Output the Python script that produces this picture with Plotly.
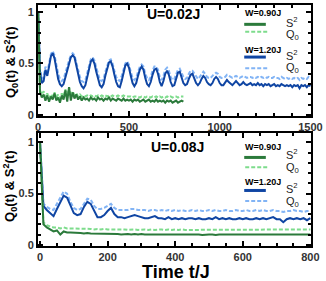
import plotly.graph_objects as go

# ---------------- data ----------------
# Panel (a): U = 0.02J
t_a_w090 = list(range(0, 801, 10))
s2_a_w090 = [1.0, 0.22, 0.17, 0.20, 0.14, 0.19, 0.13, 0.18, 0.15, 0.21,
             0.14, 0.17, 0.12, 0.19, 0.15, 0.24, 0.13, 0.27, 0.14, 0.22,
             0.16, 0.20, 0.15, 0.18, 0.14, 0.17, 0.15, 0.16, 0.14, 0.17,
             0.15, 0.16, 0.14, 0.17, 0.15, 0.16, 0.14, 0.16, 0.15, 0.17,
             0.14, 0.16, 0.15, 0.14, 0.16, 0.15, 0.14, 0.16, 0.14, 0.15,
             0.14, 0.15, 0.13, 0.15, 0.14, 0.15, 0.13, 0.14, 0.15, 0.13,
             0.14, 0.15, 0.13, 0.14, 0.13, 0.15, 0.13, 0.14, 0.13, 0.14,
             0.12, 0.14, 0.13, 0.14, 0.12, 0.13, 0.14, 0.12, 0.13, 0.14,
             0.13]
q0_a_w090 = [1.0, 0.24, 0.20, 0.23, 0.17, 0.21, 0.16, 0.20, 0.18, 0.22,
             0.17, 0.20, 0.16, 0.21, 0.18, 0.25, 0.17, 0.27, 0.18, 0.23,
             0.19, 0.21, 0.18, 0.20, 0.18, 0.19, 0.18, 0.19, 0.18, 0.19,
             0.18, 0.19, 0.18, 0.19, 0.18, 0.19, 0.18, 0.19, 0.18, 0.19,
             0.18, 0.19, 0.18, 0.18, 0.19, 0.18, 0.18, 0.19, 0.18, 0.18,
             0.18, 0.18, 0.17, 0.18, 0.18, 0.18, 0.17, 0.18, 0.18, 0.17,
             0.18, 0.18, 0.17, 0.18, 0.17, 0.18, 0.17, 0.18, 0.17, 0.18,
             0.17, 0.18, 0.17, 0.18, 0.17, 0.18, 0.18, 0.17, 0.18, 0.18,
             0.18]

t_a_w120 = list(range(0, 1501, 10))
s2_a_w120 = [1.0, 0.42, 0.31, 0.33, 0.44, 0.38, 0.47, 0.57, 0.60, 0.55,
             0.45, 0.35, 0.30, 0.28, 0.30, 0.36, 0.43, 0.50, 0.56, 0.58,
             0.56, 0.48, 0.40, 0.32, 0.28, 0.26, 0.29, 0.36, 0.45, 0.52,
             0.54, 0.50, 0.42, 0.34, 0.29, 0.27, 0.30, 0.38, 0.46, 0.51,
             0.52, 0.47, 0.39, 0.32, 0.28, 0.27, 0.33, 0.41, 0.48, 0.50,
             0.46, 0.38, 0.31, 0.28, 0.31, 0.38, 0.44, 0.47, 0.44, 0.36,
             0.30, 0.28, 0.32, 0.39, 0.44, 0.45, 0.40, 0.32, 0.28, 0.33,
             0.40, 0.43, 0.39, 0.32, 0.28, 0.29, 0.35, 0.41, 0.42, 0.37,
             0.31, 0.29, 0.30, 0.35, 0.39, 0.40, 0.36, 0.31, 0.29, 0.31,
             0.35, 0.38, 0.36, 0.32, 0.30, 0.29, 0.31, 0.35, 0.37, 0.35,
             0.31, 0.29, 0.29, 0.31, 0.34, 0.32, 0.30, 0.29, 0.31, 0.33,
             0.31, 0.29, 0.30, 0.32, 0.30, 0.29, 0.30, 0.31, 0.29, 0.30,
             0.29, 0.31, 0.29, 0.30, 0.28, 0.30, 0.29, 0.30, 0.28, 0.29,
             0.30, 0.28, 0.29, 0.28, 0.30, 0.29, 0.28, 0.29, 0.28, 0.29,
             0.27, 0.29, 0.28, 0.29, 0.26, 0.29, 0.28, 0.29, 0.27, 0.29,
             0.28]
q0_a_w120 = [1.0, 0.45, 0.35, 0.37, 0.47, 0.42, 0.50, 0.59, 0.62, 0.58,
             0.49, 0.40, 0.35, 0.33, 0.35, 0.40, 0.47, 0.53, 0.58, 0.60,
             0.58, 0.51, 0.44, 0.37, 0.33, 0.32, 0.34, 0.40, 0.48, 0.54,
             0.56, 0.53, 0.46, 0.39, 0.34, 0.33, 0.35, 0.42, 0.49, 0.53,
             0.54, 0.50, 0.43, 0.37, 0.34, 0.33, 0.38, 0.45, 0.50, 0.52,
             0.49, 0.42, 0.36, 0.34, 0.36, 0.42, 0.47, 0.49, 0.47, 0.40,
             0.36, 0.34, 0.37, 0.43, 0.47, 0.47, 0.44, 0.37, 0.34, 0.38,
             0.44, 0.46, 0.43, 0.37, 0.34, 0.35, 0.40, 0.44, 0.45, 0.41,
             0.37, 0.35, 0.36, 0.40, 0.43, 0.43, 0.40, 0.37, 0.35, 0.37,
             0.40, 0.42, 0.40, 0.37, 0.36, 0.36, 0.38, 0.40, 0.41, 0.40,
             0.37, 0.36, 0.36, 0.37, 0.39, 0.38, 0.37, 0.36, 0.37, 0.38,
             0.37, 0.36, 0.37, 0.38, 0.37, 0.36, 0.37, 0.37, 0.36, 0.37,
             0.36, 0.37, 0.36, 0.37, 0.36, 0.37, 0.36, 0.37, 0.36, 0.36,
             0.37, 0.36, 0.36, 0.35, 0.37, 0.36, 0.35, 0.36, 0.35, 0.36,
             0.35, 0.36, 0.35, 0.36, 0.34, 0.36, 0.35, 0.36, 0.35, 0.37,
             0.36]

# Panel (b): U = 0.08J
t_b = list(range(0, 801, 10))
s2_b_w090 = [1.0, 0.20, 0.17, 0.15, 0.13, 0.14, 0.10, 0.13, 0.12, 0.12,
             0.12, 0.115, 0.115, 0.11, 0.115, 0.11, 0.11, 0.11, 0.105, 0.11,
             0.105, 0.105, 0.11, 0.105, 0.10, 0.105, 0.105, 0.10, 0.105, 0.10,
             0.105, 0.10, 0.10, 0.105, 0.10, 0.10, 0.105, 0.10, 0.10, 0.10,
             0.105, 0.10, 0.10, 0.10, 0.10, 0.105, 0.10, 0.10, 0.095, 0.10,
             0.10, 0.10, 0.095, 0.10, 0.10, 0.10, 0.095, 0.10, 0.10, 0.095,
             0.10, 0.10, 0.095, 0.10, 0.10, 0.095, 0.10, 0.10, 0.095, 0.10,
             0.10, 0.095, 0.10, 0.095, 0.10, 0.10, 0.095, 0.10, 0.095, 0.10,
             0.10]
q0_b_w090 = [1.0, 0.22, 0.19, 0.18, 0.17, 0.17, 0.16, 0.17, 0.16, 0.16,
             0.16, 0.16, 0.155, 0.16, 0.155, 0.155, 0.15, 0.155, 0.15, 0.155,
             0.15, 0.15, 0.155, 0.15, 0.15, 0.15, 0.145, 0.15, 0.15, 0.145,
             0.15, 0.15, 0.145, 0.15, 0.145, 0.15, 0.15, 0.145, 0.15, 0.145,
             0.15, 0.145, 0.15, 0.145, 0.145, 0.15, 0.145, 0.15, 0.145, 0.145,
             0.15, 0.145, 0.145, 0.15, 0.145, 0.15, 0.145, 0.145, 0.15, 0.145,
             0.15, 0.145, 0.15, 0.145, 0.15, 0.15, 0.145, 0.15, 0.145, 0.15,
             0.15, 0.145, 0.15, 0.15, 0.145, 0.15, 0.15, 0.145, 0.15, 0.15,
             0.15]
s2_b_w120 = [1.0, 0.38, 0.34, 0.31, 0.28, 0.35, 0.42, 0.48, 0.46, 0.38,
             0.31, 0.29, 0.30, 0.37, 0.42, 0.40, 0.33, 0.27, 0.27, 0.29,
             0.33, 0.36, 0.30, 0.27, 0.27, 0.26, 0.27, 0.28, 0.29, 0.28,
             0.27, 0.26, 0.26, 0.27, 0.28, 0.26, 0.26, 0.25, 0.27, 0.25,
             0.26, 0.25, 0.26, 0.25, 0.26, 0.26, 0.25, 0.26, 0.25, 0.25,
             0.26, 0.25, 0.27, 0.25, 0.26, 0.25, 0.26, 0.25, 0.25, 0.26,
             0.25, 0.26, 0.25, 0.25, 0.26, 0.25, 0.26, 0.25, 0.26, 0.27,
             0.25, 0.25, 0.22, 0.25, 0.26, 0.25, 0.26, 0.25, 0.26, 0.24,
             0.26]
q0_b_w120 = [1.0, 0.40, 0.37, 0.35, 0.34, 0.40, 0.46, 0.52, 0.50, 0.42,
             0.36, 0.34, 0.35, 0.40, 0.45, 0.44, 0.38, 0.35, 0.35, 0.36,
             0.38, 0.40, 0.36, 0.34, 0.34, 0.34, 0.34, 0.35, 0.35, 0.34,
             0.34, 0.34, 0.33, 0.34, 0.34, 0.33, 0.34, 0.33, 0.34, 0.33,
             0.34, 0.33, 0.34, 0.33, 0.33, 0.34, 0.33, 0.34, 0.33, 0.33,
             0.34, 0.33, 0.34, 0.33, 0.33, 0.34, 0.33, 0.33, 0.34, 0.33,
             0.33, 0.34, 0.33, 0.33, 0.34, 0.33, 0.34, 0.33, 0.33, 0.34,
             0.33, 0.33, 0.32, 0.33, 0.33, 0.34, 0.33, 0.33, 0.32, 0.33,
             0.33]

panel_labels = ["U=0.02J", "U=0.08J"]
group_labels = ["W=0.90J", "W=1.20J"]
y_title = "Q<sub>0</sub>(t) &amp; S<sup>2</sup>(t)"
x_title = "Time t/J"

# ---------------- style ----------------
FONT = "Arial, Liberation Sans, Helvetica, sans-serif"
C_S2_090 = "#2b7a3b"
C_Q0_090 = "#7ddc8c"
C_S2_120 = "#0f45a3"
C_Q0_120 = "#82b4f5"
DASH = "4px,2px"

W, H = 326, 281
ML, MR, MT, MB = 38, 10, 3, 35
PW = W - ML - MR
PH = H - MT - MB


def px_x(px):
    return (px - ML) / PW


def px_y(py):
    return (H - MB - py) / PH


fig = go.Figure()

def add(x, y, color, dash, xa, ya, width=2):
    fig.add_trace(go.Scatter(x=x, y=y, mode="lines", xaxis=xa, yaxis=ya,
                             line=dict(color=color, width=width, dash=dash),
                             showlegend=False, hoverinfo="skip"))

# top panel
add(t_a_w120, q0_a_w120, C_Q0_120, DASH, "x", "y")
add(t_a_w120, s2_a_w120, C_S2_120, "solid", "x", "y")
add(t_a_w090, q0_a_w090, C_Q0_090, DASH, "x", "y")
add(t_a_w090, s2_a_w090, C_S2_090, "solid", "x", "y")
# bottom panel
add(t_b, q0_b_w120, C_Q0_120, DASH, "x2", "y2")
add(t_b, s2_b_w120, C_S2_120, "solid", "x2", "y2")
add(t_b, q0_b_w090, C_Q0_090, DASH, "x2", "y2")
add(t_b, s2_b_w090, C_S2_090, "solid", "x2", "y2")

axis_common = dict(showline=True, linewidth=2, linecolor="black", mirror="ticks",
                   ticks="inside", ticklen=5, tickwidth=1.5, tickcolor="black",
                   showgrid=False, zeroline=False, ticklabeloverflow="allow",
                   tickfont=dict(family=FONT, size=11, color="#333333", weight="bold"))

top_dom = [px_y(115), 1.0]
bot_dom = [0.0, px_y(132)]

fig.update_layout(
    width=W, height=H, margin=dict(l=ML, r=MR, t=MT, b=MB),
    plot_bgcolor="white", paper_bgcolor="white", showlegend=False,
    xaxis=dict(axis_common, domain=[0, 1], anchor="y", range=[-1, 1503],
               tick0=0, dtick=500,
               minor=dict(dtick=100, ticks="inside", ticklen=3, tickwidth=1.5,
                          tickcolor="black", showgrid=False)),
    yaxis=dict(axis_common, domain=top_dom, anchor="x", range=[-0.01, 1.067],
               tick0=0, dtick=0.5,
               minor=dict(dtick=0.1, ticks="inside", ticklen=3, tickwidth=1.5,
                          tickcolor="black", showgrid=False)),
    xaxis2=dict(axis_common, domain=[0, 1], anchor="y2", range=[-6, 802],
                tick0=0, dtick=200,
                minor=dict(dtick=50, ticks="inside", ticklen=3, tickwidth=1.5,
                           tickcolor="black", showgrid=False)),
    yaxis2=dict(axis_common, domain=bot_dom, anchor="x2", range=[-0.012, 1.093],
                tick0=0, dtick=0.5,
                minor=dict(dtick=0.1, ticks="inside", ticklen=3, tickwidth=1.5,
                           tickcolor="black", showgrid=False)),
)

ann = []
# panel labels
ann.append(dict(text=panel_labels[0], x=px_x(176), y=px_y(12.5)))
ann.append(dict(text=panel_labels[1], x=px_x(180), y=px_y(146)))
for a in ann:
    a.update(xref="paper", yref="paper", showarrow=False, xanchor="center",
             yanchor="middle", font=dict(family=FONT, size=14, color="black", weight="bold"))

# y titles
for yc in (61, 186):
    ann.append(dict(text=y_title, x=px_x(10), y=px_y(yc), xref="paper", yref="paper",
                    showarrow=False, textangle=-90, xanchor="center", yanchor="middle",
                    font=dict(family=FONT, size=13, color="black", weight="bold")))
# x title
ann.append(dict(text=x_title, x=px_x(179), y=px_y(272), xref="paper", yref="paper",
                showarrow=False, xanchor="center", yanchor="middle",
                font=dict(family=FONT, size=18, color="black", weight="bold")))

shapes = []


def legend_block(ys):
    # ys: pixel y of [title1, line1, S2 lbl, dash1, Q0 lbl, title2, line2, S2 lbl, dash2, Q0 lbl]
    entries = [
        (group_labels[0], ys[0], ys[1], ys[2], ys[3], ys[4], C_S2_090, C_Q0_090),
        (group_labels[1], ys[5], ys[6], ys[7], ys[8], ys[9], C_S2_120, C_Q0_120),
    ]
    for title, yt, yl, ys2, yd, yq, cs, cq in entries:
        ann.append(dict(text=title, x=px_x(267), y=px_y(yt), xref="paper", yref="paper",
                        showarrow=False, xanchor="center", yanchor="middle",
                        font=dict(family=FONT, size=9, color="black", weight="bold")))
        shapes.append(dict(type="line", xref="paper", yref="paper",
                           x0=px_x(248), x1=px_x(270), y0=px_y(yl), y1=px_y(yl),
                           line=dict(color=cs, width=3)))
        shapes.append(dict(type="line", xref="paper", yref="paper",
                           x0=px_x(249), x1=px_x(272), y0=px_y(yd), y1=px_y(yd),
                           line=dict(color=cq, width=2, dash=DASH)))
        ann.append(dict(text="S<sup>2</sup>", x=px_x(288), y=px_y(ys2), xref="paper",
                        yref="paper", showarrow=False, xanchor="left", yanchor="middle",
                        font=dict(family=FONT, size=11, color="#222222")))
        ann.append(dict(text="Q<sub>0</sub>", x=px_x(289), y=px_y(yq), xref="paper",
                        yref="paper", showarrow=False, xanchor="left", yanchor="middle",
                        font=dict(family=FONT, size=11, color="#222222")))


legend_block([11, 22.5, 20, 30, 33.5, 48, 55.5, 53.5, 66.7, 66.5])
legend_block([146, 156.7, 153, 166.7, 167.5, 181.7, 190, 188, 200.7, 201.5])

fig.update_layout(annotations=ann, shapes=shapes)

fig.write_html("out.html", config={"displayModeBar": False},
               post_script="document.body.style.margin='0px';document.body.style.padding='0px';")
